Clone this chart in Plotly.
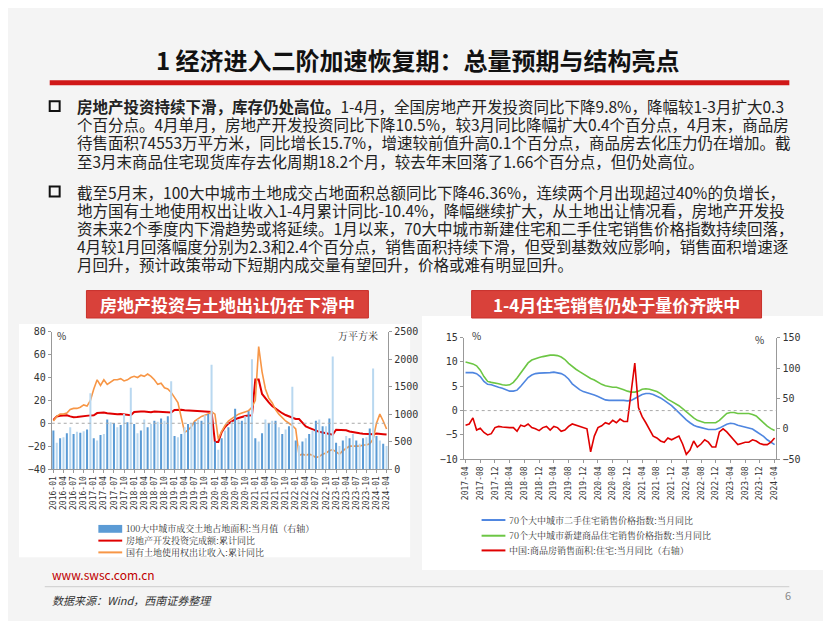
import plotly.graph_objects as go

W, H = 831, 621
OFF = 6
def px(x): return (x - OFF) / W
def py(y): return 1 - (y - OFF) / H

# ---------------- Left chart data (2016-01 .. 2024-04) ----------------
left_months = [f"{y}-{m:02d}" for y in range(2016, 2025) for m in range(1, 13)][:100]
land_area = [700, 480, 560, 580, 650, 760, 640, 680, 660, 690, 720, 1380,
             560, 520, 620, 640, 900, 850, 840, 760, 800, 1000, 850, 1480,
             820, 650, 700, 900, 760, 820, 880, 860, 920, 880, 960, 1600,
             600, 580, 640, 760, 820, 820, 860, 900, 880, 980, 1000, 1900,
             500, 350, 560, 700, 760, 860, 1100, 900, 880, 960, 1050, 2000,
             560, 500, 650, 900, 840, 880, 880, 760, 640, 720, 780, 1500,
             520, 430, 500, 560, 640, 700, 880, 900, 780, 780, 920, 2050,
             480, 420, 520, 600, 560, 640, 520, 460, 560, 580, 740, 1830,
             600, 520, 460, 420]
invest = [3, 6, 6.5, 7, 7, 6, 5.3, 5.4, 5.8, 6.6, 6.5, 6.9,
          7, 8.9, 9.1, 9.3, 8.8, 8.5, 7.9, 7.9, 8.1, 7.8, 7.5, 7.0,
          9.9, 10.4, 10.3, 10.2, 9.7, 9.7, 10.2, 10.1, 9.9, 9.7, 9.3, 9.5,
          11.6, 11.8, 11.9, 11.4, 11.1, 10.9, 10.6, 10.5, 10.5, 10.3, 10.2, 9.9,
          -16.3, -16.3, -7.7, -3.3, -0.3, 1.9, 3.4, 4.6, 5.6, 6.3, 6.8, 7.0,
          38.3, 38.3, 25.6, 21.6, 18.3, 15.0, 12.7, 10.9, 8.8, 7.2, 6.0, 4.4,
          3.7, 3.7, 0.7, -2.7, -4.0, -5.4, -6.4, -7.4, -8.0, -8.8, -9.8, -10.0,
          -5.7, -5.7, -5.8, -6.2, -7.2, -7.9, -8.5, -8.8, -9.1, -9.3, -9.4, -9.6,
          -9.0, -9.0, -9.5, -9.8]
land_rev = [2, 6, 8, 8, 9, 12, 13, 13, 14, 16, 15, 20,
            30, 38, 33, 38, 34, 36, 38, 38, 39, 37, 38, 40,
            41, 40, 42, 41, 43, 41, 38, 34, 35, 31, 30, 27,
            23, 18, 5, -8, -6, -3, 2, 4, 6, 7, 8, 10,
            8, -14, -7, -2, 2, 4, 6, 8, 9, 10, 11, 14,
            20, 67, 45, 30, 22, 18, 12, 8, 5, 2, 0, -2,
            -5, -28, -27, -28, -27, -28, -30, -29, -27, -26, -24, -23,
            -25, -27, -24, -22, -20, -20, -20, -20, -19, -19, -18, -14,
            0, 8, 2, -5]

# ---------------- Right chart data (2017-04 .. 2024-04) ----------------
right_months = [f"{y}-{m:02d}" for y in range(2017, 2025) for m in range(1, 13)][3:88]
second_hand = [7.8, 7.8, 7.8, 7.6, 7.0, 6.0, 5.4, 5.3, 5.0,
               4.8, 4.6, 4.3, 4.0, 4.0, 4.2, 5.0, 6.0, 6.8, 7.3, 7.6, 7.7,
               7.7, 7.8, 7.8, 7.9, 7.8, 7.6, 7.2, 6.5, 5.5, 4.8, 4.3, 3.9,
               3.7, 3.5, 3.2, 2.9, 2.5, 2.2, 2.1, 2.1, 2.1, 2.2, 2.1, 2.0,
               2.1, 2.5, 2.9, 3.3, 3.5, 3.5, 3.3, 3.0, 2.6, 2.1, 1.6, 1.0,
               0.3, -0.5, -1.2, -1.9, -2.5, -3.0, -3.3, -3.5, -3.7, -3.9, -3.9, -3.9,
               -3.6, -3.2, -2.8, -2.6, -2.7, -3.0, -3.2, -3.3, -3.5, -3.8, -4.3, -4.8,
               -5.3, -6.0, -6.5, -7.0]
new_home = [10.0, 9.8, 9.6, 9.2, 8.3, 7.0, 6.0, 5.8, 5.7,
            5.5, 5.3, 5.2, 5.3, 5.8, 6.7, 7.8, 8.9, 9.8, 10.4, 10.7, 10.9,
            11.1, 11.3, 11.4, 11.4, 11.3, 11.0, 10.5, 9.7, 9.0, 8.5, 8.0, 7.5,
            7.0, 6.6, 6.3, 5.8, 5.4, 5.1, 4.9, 4.8, 4.8, 4.6, 4.3, 4.0,
            3.8, 3.8, 4.0, 4.4, 4.5, 4.4, 4.2, 3.9, 3.5, 2.9, 2.3, 1.9,
            1.5, 1.0, 0.4, -0.3, -1.0, -1.5, -2.0, -2.3, -2.5, -2.5, -2.5, -2.5,
            -2.0, -1.3, -0.6, -0.4, -0.4, -0.6, -0.6, -0.6, -0.6, -0.8, -1.1, -1.8,
            -2.6, -3.2, -3.7, -4.1]
sales_area = [6, 8, 18, -2, 1, -6, -10, -8, 2,
              4, 3, 2, 2, 2, -4, 6, 4, 8, 2, 0, -3,
              2, 4, -2, 4, 2, -4, -2, 4, 8, 6, 4, 3,
              0, -38, -12, 2, 5, 10, 8, 14, 10, 16, 12, 12,
              60, 108, 35, 20, 10, 0, -12, -15, -20, -22, -15, -18,
              -15, -12, -25, -42, -35, -20, -30, -25, -18, -22, -30, -30,
              -5, 0, -5, -12, -18, -26, -24, -22, -22, -18, -20, -24,
              -26, -26, -22, -15]

BLUE_D, BLUE_L = "#5B9BD5", "#B9D8F0"
RED, ORANGE = "#E00000", "#F79646"
C_2ND, C_NEW = "#4F86E0", "#6CC644"
FONT = "Noto Sans CJK SC"
SERIF = "Noto Serif CJK SC, " + FONT

fig = go.Figure()
bar_colors = [BLUE_D if i % 2 == 0 else BLUE_L for i in range(len(land_area))]
fig.add_trace(go.Bar(x=left_months, y=land_area, marker_color=bar_colors, marker_line_width=0,
                     xaxis="x", yaxis="y2", width=0.6))
fig.add_trace(go.Scatter(x=left_months, y=invest, mode="lines", line=dict(color=RED, width=2),
                         xaxis="x", yaxis="y"))
fig.add_trace(go.Scatter(x=left_months, y=land_rev, mode="lines", line=dict(color=ORANGE, width=1.6),
                         xaxis="x", yaxis="y"))
fig.add_trace(go.Scatter(x=right_months, y=second_hand, mode="lines", line=dict(color=C_2ND, width=1.6),
                         xaxis="x2", yaxis="y3"))
fig.add_trace(go.Scatter(x=right_months, y=new_home, mode="lines", line=dict(color=C_NEW, width=1.6),
                         xaxis="x2", yaxis="y3"))
fig.add_trace(go.Scatter(x=right_months, y=sales_area, mode="lines", line=dict(color=RED, width=1.6),
                         xaxis="x2", yaxis="y4"))

axcom = dict(showgrid=False, zeroline=False, ticks="outside", ticklen=3, tickcolor="#999",
             linecolor="#999", showline=True)

fig.update_layout(
    width=W, height=H, margin=dict(l=0, r=0, t=0, b=0),
    paper_bgcolor="#F4F4F4", plot_bgcolor="rgba(0,0,0,0)", showlegend=False, bargap=0.3,
    font=dict(family=FONT),
    xaxis=dict(domain=[px(47), px(386)], anchor="y", type="category",
               tickvals=left_months[::3], tickangle=-90, range=[-0.5, 99.5], **axcom),
    yaxis=dict(domain=[py(470), py(330)], range=[-40, 80], dtick=20, **axcom),
    yaxis2=dict(overlaying="y", side="right", anchor="x", range=[0, 2500], dtick=500, **axcom),
    xaxis2=dict(domain=[px(462), px(777)], anchor="y3", type="category",
                tickvals=right_months[::4], tickangle=-90, range=[-0.5, 84.5], **axcom),
    yaxis3=dict(domain=[py(460), py(336)], range=[-10, 15], dtick=5, anchor="x2", **axcom),
    yaxis4=dict(overlaying="y3", side="right", anchor="x2", range=[-50, 150], dtick=50, **axcom),
)
fig.update_yaxes(tickfont=dict(family="DejaVu Sans Mono", size=10, color="#333"))
fig.update_xaxes(tickfont=dict(family="DejaVu Sans Mono", size=8, color="#333"))

shapes = []
ann = []
shapes.append(dict(type="rect", xref="paper", yref="paper", x0=px(14), x1=px(408), y0=py(560), y1=py(322),
                   fillcolor="white", line_width=0, layer="below"))
shapes.append(dict(type="rect", xref="paper", yref="paper", x0=px(420), x1=px(830), y0=py(573), y1=py(314),
                   fillcolor="white", line_width=0, layer="below"))
shapes.append(dict(type="line", xref="x domain", yref="y", x0=0, x1=1, y0=0, y1=0,
                   line=dict(color="#aaa", width=1, dash="dot")))
shapes.append(dict(type="line", xref="x2 domain", yref="y3", x0=0, x1=1, y0=0, y1=0,
                   line=dict(color="#aaa", width=1, dash="dot")))
shapes.append(dict(type="line", xref="paper", yref="paper", x0=px(45), x1=px(790), y0=py(76), y1=py(76),
                   line=dict(color="#D01818", width=5)))
for x0, x1 in [(82, 366), (470, 762)]:
    shapes.append(dict(type="rect", xref="paper", yref="paper", x0=px(x0), x1=px(x1), y0=py(316), y1=py(288),
                       fillcolor="#D9413A", line=dict(color="#C8302A", width=1)))
shapes.append(dict(type="line", xref="paper", yref="paper", x0=px(40), x1=px(790), y0=py(590), y1=py(590),
                   line=dict(color="#ccc", width=1)))

def text(x, y, s, size=13, color="#222", anchor="left", bold=False, family=FONT, italic=False):
    if bold: s = f"<b>{s}</b>"
    if italic: s = f"<i>{s}</i>"
    ann.append(dict(xref="paper", yref="paper", x=px(x), y=py(y), text=s, showarrow=False,
                    xanchor=anchor, yanchor="middle", font=dict(size=size, color=color, family=family)))

text(416, 52, "1 经济进入二阶加速恢复期：总量预期与结构亮点", size=24, color="#111", anchor="center", bold=True)

b1 = ["<b>房地产投资持续下滑，库存仍处高位。</b>1-4月，全国房地产开发投资同比下降9.8%，降幅较1-3月扩大0.3",
      "个百分点。4月单月，房地产开发投资同比下降10.5%，较3月同比降幅扩大0.4个百分点，4月末，商品房",
      "待售面积74553万平方米，同比增长15.7%，增速较前值升高0.1个百分点，商品房去化压力仍在增加。截",
      "至3月末商品住宅现货库存去化周期18.2个月，较去年末回落了1.66个百分点，但仍处高位。"]
b2 = ["截至5月末，100大中城市土地成交占地面积总额同比下降46.36%，连续两个月出现超过40%的负增长，",
      "地方国有土地使用权出让收入1-4月累计同比-10.4%，降幅继续扩大，从土地出让情况看，房地产开发投",
      "资未来2个季度内下滑趋势或将延续。1月以来，70大中城市新建住宅和二手住宅销售价格指数持续回落，",
      "4月较1月回落幅度分别为2.3和2.4个百分点，销售面积持续下滑，但受到基数效应影响，销售面积增速逐",
      "月回升，预计政策带动下短期内成交量有望回升，价格或难有明显回升。"]
for i, s in enumerate(b1):
    text(70, 100 + i * 18.5, s, size=15.5)
for i, s in enumerate(b2):
    text(70, 187 + i * 18.4, s, size=15.5)
for yb in (100, 187):
    shapes.append(dict(type="rect", xref="paper", yref="paper", x0=px(45), x1=px(55), y0=py(yb + 5), y1=py(yb - 5),
                       line=dict(color="#111", width=2), fillcolor="rgba(0,0,0,0)"))

text(224, 302, "房地产投资与土地出让仍在下滑中", size=17, color="white", anchor="center", bold=True)
text(616, 302, "1-4月住宅销售仍处于量价齐跌中", size=17, color="white", anchor="center", bold=True)

text(50, 334, "%", size=10, color="#333")
text(378, 334, "万平方米", size=10, color="#333", anchor="right", family=SERIF)
text(468, 334, "%", size=10, color="#333")
text(766, 338, "%", size=10, color="#333", anchor="right")

def leg_bar(x, y, label):
    shapes.append(dict(type="rect", xref="paper", yref="paper", x0=px(x), x1=px(x + 24), y0=py(y + 4), y1=py(y - 4),
                       fillcolor=BLUE_D, line_width=0))
    text(x + 26, y, label, size=9, color="#333", family=SERIF)
def leg_line(x, y, color, label):
    shapes.append(dict(type="line", xref="paper", yref="paper", x0=px(x), x1=px(x + 24), y0=py(y), y1=py(y),
                       line=dict(color=color, width=2)))
    text(x + 26, y, label, size=9, color="#333", family=SERIF)

leg_bar(94, 531, "100大中城市成交土地占地面积:当月值（右轴）")
leg_line(94, 543, RED, "房地产开发投资完成额:累计同比")
leg_line(94, 555, ORANGE, "国有土地使用权出让收入:累计同比")
leg_line(480, 522, C_2ND, "70个大中城市二手住宅销售价格指数:当月同比")
leg_line(480, 538, C_NEW, "70个大中城市新建商品住宅销售价格指数:当月同比")
leg_line(480, 553, RED, "中国:商品房销售面积:住宅:当月同比（右轴）")

text(45, 578, "www.swsc.com.cn", size=12, color="#C00000")
text(45, 604, "数据来源：Wind，西南证券整理", size=11, color="#333", italic=True)
text(784, 598, "6", size=11, color="#888")

fig.update_layout(shapes=shapes, annotations=ann)
fig.write_html("out.html")
